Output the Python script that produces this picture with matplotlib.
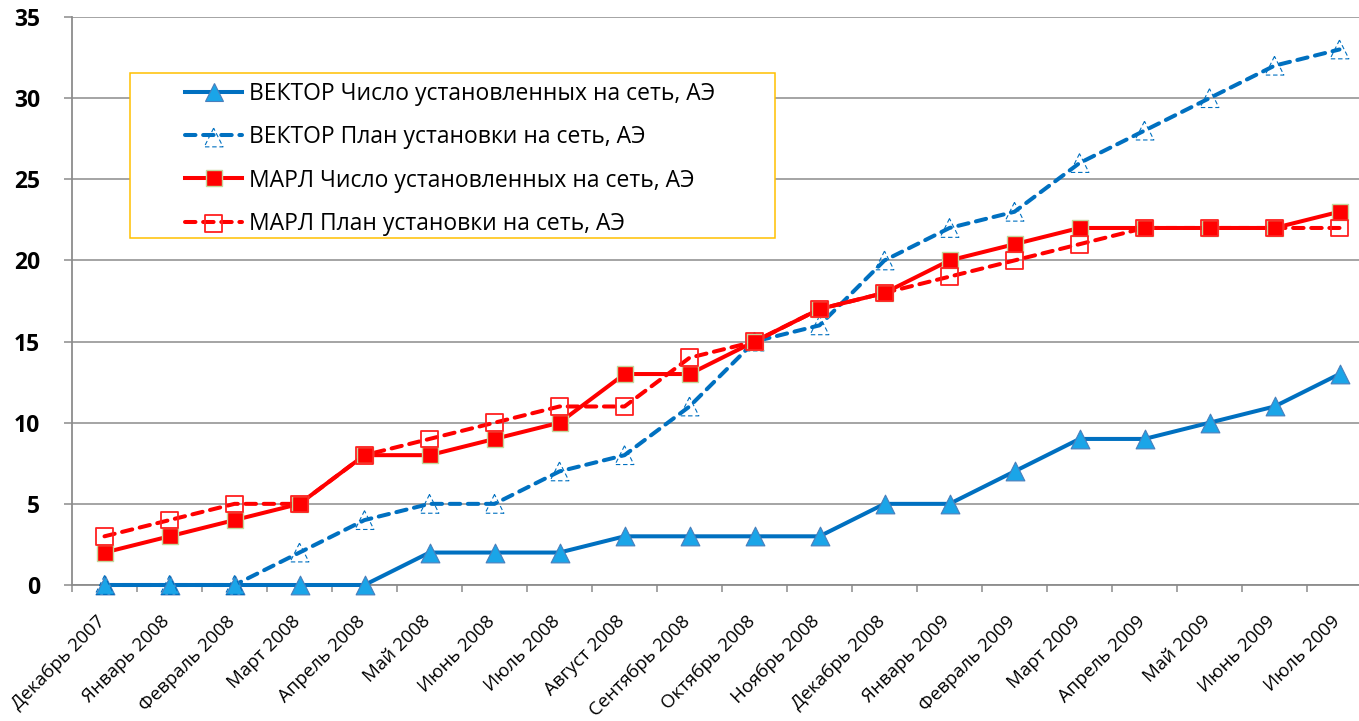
import matplotlib
matplotlib.use("Agg")
import matplotlib.pyplot as plt
from matplotlib.patches import Rectangle
from matplotlib.lines import Line2D
from matplotlib.legend_handler import HandlerTuple
import matplotlib.transforms as mtransforms
import numpy as np

plt.rcParams['font.family'] = ['Open Sans', 'DejaVu Sans']

categories = ["Декабрь 2007", "Январь 2008", "Февраль 2008", "Март 2008", "Апрель 2008",
              "Май 2008", "Июнь 2008", "Июль 2008", "Август 2008", "Сентябрь 2008",
              "Октябрь 2008", "Ноябрь 2008", "Декабрь 2008", "Январь 2009", "Февраль 2009",
              "Март 2009", "Апрель 2009", "Май 2009", "Июнь 2009", "Июль 2009"]

vektor_installed = [0, 0, 0, 0, 0, 2, 2, 2, 3, 3, 3, 3, 5, 5, 7, 9, 9, 10, 11, 13]
vektor_plan = [0, 0, 0, 2, 4, 5, 5, 7, 8, 11, 15, 16, 20, 22, 23, 26, 28, 30, 32, 33]
marl_installed = [2, 3, 4, 5, 8, 8, 9, 10, 13, 13, 15, 17, 18, 20, 21, 22, 22, 22, 22, 23]
marl_plan = [3, 4, 5, 5, 8, 9, 10, 11, 11, 14, 15, 17, 18, 19, 20, 21, 22, 22, 22, 22]

labels = ["ВЕКТОР Число установленных на сеть, АЭ",
          "ВЕКТОР План установки на сеть, АЭ",
          "МАРЛ Число установленных на сеть, АЭ",
          "МАРЛ План установки на сеть, АЭ"]

y_ticks = [0, 5, 10, 15, 20, 25, 30, 35]

W, H = 1359, 721
fig = plt.figure(figsize=(W / 100, H / 100), dpi=100)
ax = fig.add_axes([72 / W, 1 - 585 / H, 1300 / W, 568 / H])

x = np.arange(len(categories))

blue = '#0070C0'
red = '#FF0000'
lw = 2.9
dash = (0, (2.6, 1.9))

l1, = ax.plot(x, vektor_installed, color=blue, lw=lw, solid_capstyle='round',
              solid_joinstyle='round', zorder=3, clip_on=False)
l2, = ax.plot(x, vektor_plan, color=blue, lw=lw, linestyle=dash, dash_capstyle='round',
              dash_joinstyle='round', zorder=3, clip_on=False)
l3, = ax.plot(x, marl_installed, color=red, lw=lw, solid_capstyle='round',
              solid_joinstyle='round', zorder=3)
l4, = ax.plot(x, marl_plan, color=red, lw=lw, linestyle=dash, dash_capstyle='round',
              dash_joinstyle='round', zorder=3)

ms_tri = 13.5
ms_sq = 12.0
m1 = ax.scatter(x, vektor_installed, marker='^', s=ms_tri ** 2, facecolor='#1AA5E8',
                edgecolor='#4A7EBB', linewidths=0.8, zorder=5, clip_on=False)
m2 = ax.scatter(x, vektor_plan, marker='^', s=ms_tri ** 2, facecolor='none',
                edgecolor=blue, linewidths=0.8, linestyle=(0, (4, 2.5)), zorder=5, clip_on=False)
m3 = ax.scatter(x, marl_installed, marker='s', s=ms_sq ** 2, facecolor='#FF0000',
                edgecolor='#C3D69B', linewidths=1.0, zorder=5, clip_on=False)
m4 = ax.scatter(x, marl_plan, marker='s', s=ms_sq ** 2, facecolor='none',
                edgecolor='#FF2020', linewidths=1.3, zorder=6, clip_on=False)

ax.set_xlim(-0.5, len(categories) - 0.5)
ax.set_ylim(0, 35)
ax.set_yticks(y_ticks)
ax.set_yticklabels([str(v) for v in y_ticks], fontweight='bold', fontsize=16.5)
ax.yaxis.grid(True, color='#8C8C8C', linewidth=1.1)
ax.set_axisbelow(True)

ax.set_xticks(x)
ax.set_xticklabels(categories, rotation=45, ha='right', va='top', fontsize=13.4)
ax.set_xticks(np.arange(-0.5, len(categories), 1.0), minor=True)
ax.tick_params(axis='x', which='major', length=0, pad=19.5)
ax.tick_params(axis='x', which='minor', length=5, width=1.1, color='#8C8C8C', direction='out')
ax.tick_params(axis='y', length=6, width=1.1, color='#8C8C8C', direction='out', pad=17)
offset = mtransforms.ScaledTranslation(4 / 100, 0, fig.dpi_scale_trans)
for lab in ax.get_xticklabels():
    lab.set_transform(lab.get_transform() + offset)

for s in ['top', 'right']:
    ax.spines[s].set_visible(False)
for s in ['left', 'bottom']:
    ax.spines[s].set_color('#8C8C8C')
    ax.spines[s].set_linewidth(1.3)

# legend
h1 = Line2D([], [], color=blue, lw=lw, marker='^', markersize=ms_tri,
            markerfacecolor='#1AA5E8', markeredgecolor='#4A7EBB', markeredgewidth=0.8)
h2 = Line2D([], [], color=blue, lw=lw, linestyle=dash, dash_capstyle='round')
h3 = Line2D([], [], color=red, lw=lw, marker='s', markersize=ms_sq,
            markerfacecolor='#FF0000', markeredgecolor='#C3D69B', markeredgewidth=1.0)
h4 = Line2D([], [], color=red, lw=lw, linestyle=dash, dash_capstyle='round')
fig.add_artist(Rectangle((130 / W, 1 - 238 / H), 645 / W, 165 / H, transform=fig.transFigure,
                         facecolor='white', edgecolor='#FFC000', linewidth=1.1, zorder=2))
leg = fig.legend([h1, (h2, m2), h3, (h4, m4)], labels,
                 handler_map={tuple: HandlerTuple(ndivide=1)},
                 loc='center left', bbox_to_anchor=(185 / W, 1 - 159 / H),
                 frameon=False, borderpad=0, borderaxespad=0, fontsize=16.5,
                 handlelength=2.5, handletextpad=0.3, labelspacing=0.83, scatterpoints=1)
leg.set_zorder(10)

fig.savefig('out.png', dpi=100)
